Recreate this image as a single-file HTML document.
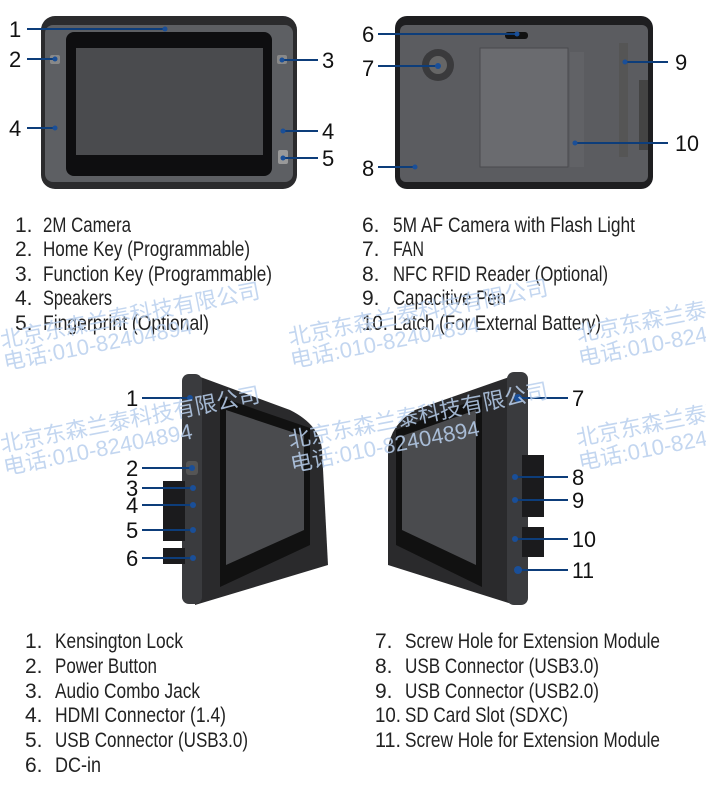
<!DOCTYPE html>
<html><head><meta charset="utf-8"><style>
html,body{margin:0;padding:0;background:#fff;}
svg{display:block}
.t{font-family:"Liberation Sans",sans-serif;font-size:21px;fill:#222}
.n{font-family:"Liberation Sans",sans-serif;font-size:22px;fill:#111}
.w{font-family:"Liberation Sans","Noto Sans CJK SC",sans-serif;font-size:22px;fill:#b9d0ee;opacity:.85}
.ln{stroke:#0d3d7a;stroke-width:2}
.dot{fill:#1a4f98}
</style></head><body>
<svg width="706" height="785" viewBox="0 0 706 785" xmlns="http://www.w3.org/2000/svg">
<!-- FRONT TABLET -->
<rect x="41" y="16" width="256" height="173" rx="14" fill="#2b2b2d"/>
<rect x="45" y="25" width="248" height="157" rx="8" fill="#5d5f63"/>
<rect x="66" y="32" width="206" height="144" rx="8" fill="#0e0e10"/>
<rect x="76" y="48" width="187" height="107" fill="#4a4b4e"/>
<rect x="50" y="55" width="10" height="9" rx="2" fill="#888"/>
<rect x="277" y="55" width="10" height="9" rx="2" fill="#888"/>
<rect x="278" y="150" width="10" height="14" rx="2" fill="#999"/>
<!-- BACK TABLET -->
<rect x="395" y="16" width="258" height="173" rx="12" fill="#1e1e20"/>
<rect x="400" y="25" width="248" height="157" rx="6" fill="#5b5c60"/>
<rect x="505" y="32" width="23" height="7" rx="3" fill="#111"/>
<circle cx="438" cy="65" r="16" fill="#3a3a3c"/>
<circle cx="438" cy="65" r="9" fill="#666"/>
<rect x="480" y="48" width="88" height="119" fill="#6a6b6f" stroke="#4a4a4e"/>
<rect x="570" y="52" width="14" height="115" fill="#616266"/>
<rect x="619" y="43" width="9" height="114" fill="#555"/>
<rect x="639" y="80" width="9" height="70" fill="#444"/>
<!-- top labels -->
<g class="ln">
<line x1="27" y1="29" x2="165" y2="29"/><line x1="27" y1="59" x2="55" y2="59"/>
<line x1="282" y1="60" x2="318" y2="60"/><line x1="27" y1="128" x2="55" y2="128"/>
<line x1="283" y1="131" x2="318" y2="131"/><line x1="283" y1="158" x2="318" y2="158"/>
<line x1="378" y1="34" x2="517" y2="34"/><line x1="378" y1="66" x2="438" y2="66"/>
<line x1="625" y1="62" x2="668" y2="62"/><line x1="575" y1="143" x2="668" y2="143"/>
<line x1="378" y1="167" x2="415" y2="167"/>
</g>
<g class="dot"><circle cx="165" cy="29" r="2.5"/><circle cx="55" cy="59" r="2.5"/><circle cx="282" cy="60" r="2.5"/><circle cx="55" cy="128" r="2.5"/><circle cx="283" cy="131" r="2.5"/><circle cx="283" cy="158" r="2.5"/><circle cx="517" cy="34" r="2.5"/><circle cx="438" cy="66" r="3"/><circle cx="625" cy="62" r="2.5"/><circle cx="575" cy="143" r="2.5"/><circle cx="415" cy="167" r="2.5"/></g>
<g class="n">
<text x="9" y="37">1</text><text x="9" y="67">2</text><text x="322" y="68">3</text>
<text x="9" y="136">4</text><text x="322" y="139">4</text><text x="322" y="166">5</text>
<text x="362" y="42">6</text><text x="362" y="76">7</text><text x="675" y="70">9</text>
<text x="675" y="151" textLength="24" lengthAdjust="spacingAndGlyphs">10</text><text x="362" y="176">8</text>
</g>
<!-- top lists -->
<g class="t">
<text x="15" y="232">1.</text><text x="43" y="232" textLength="88" lengthAdjust="spacingAndGlyphs">2M Camera</text>
<text x="15" y="256">2.</text><text x="43" y="256" textLength="207" lengthAdjust="spacingAndGlyphs">Home Key (Programmable)</text>
<text x="15" y="281">3.</text><text x="43" y="281" textLength="229" lengthAdjust="spacingAndGlyphs">Function Key (Programmable)</text>
<text x="15" y="305">4.</text><text x="43" y="305" textLength="69" lengthAdjust="spacingAndGlyphs">Speakers</text>
<text x="15" y="330">5.</text><text x="43" y="330" textLength="166" lengthAdjust="spacingAndGlyphs">Fingerprint (Optional)</text>
<text x="362" y="232">6.</text><text x="393" y="232" textLength="242" lengthAdjust="spacingAndGlyphs">5M AF Camera with Flash Light</text>
<text x="362" y="256">7.</text><text x="393" y="256" textLength="31" lengthAdjust="spacingAndGlyphs">FAN</text>
<text x="362" y="281">8.</text><text x="393" y="281" textLength="215" lengthAdjust="spacingAndGlyphs">NFC RFID Reader (Optional)</text>
<text x="362" y="305">9.</text><text x="393" y="305" textLength="113" lengthAdjust="spacingAndGlyphs">Capacitive Pen</text>
<text x="362" y="330" textLength="26" lengthAdjust="spacingAndGlyphs">10.</text><text x="393" y="330" textLength="208" lengthAdjust="spacingAndGlyphs">Latch (For External Battery)</text>
</g>
<!-- LEFT SIDE TABLET -->
<path d="M195,375 L290,410 Q320,425 322,450 L328,565 L195,605 Z" fill="#2a2a2c"/>
<polygon points="220,397 310,428 310,545 220,587" fill="#111"/>
<polygon points="226,410 304,436 304,530 226,565" fill="#4a4b4e"/>
<rect x="182" y="374" width="20" height="230" rx="7" fill="#3a3b3e"/>
<rect x="163" y="481" width="22" height="60" fill="#1b1b1d"/>
<rect x="163" y="548" width="22" height="16" fill="#1b1b1d"/>
<rect x="186" y="461" width="12" height="14" rx="3" fill="#555"/>
<!-- RIGHT SIDE TABLET -->
<path d="M515,375 L415,410 Q390,425 388,450 L388,565 L515,605 Z" fill="#2a2a2c"/>
<polygon points="396,430 482,397 482,587 396,545" fill="#111"/>
<polygon points="402,436 476,410 476,565 402,530" fill="#4a4b4e"/>
<rect x="507" y="372" width="21" height="233" rx="7" fill="#3a3b3e"/>
<rect x="522" y="455" width="22" height="62" fill="#1b1b1d"/>
<rect x="522" y="527" width="22" height="30" fill="#1b1b1d"/>
<g class="ln">
<line x1="142" y1="398" x2="190" y2="398"/><line x1="142" y1="468" x2="192" y2="468"/>
<line x1="142" y1="488" x2="193" y2="488"/><line x1="142" y1="505" x2="193" y2="505"/>
<line x1="142" y1="530" x2="193" y2="530"/><line x1="142" y1="558" x2="193" y2="558"/>
<line x1="520" y1="398" x2="568" y2="398"/><line x1="515" y1="477" x2="568" y2="477"/>
<line x1="515" y1="500" x2="568" y2="500"/><line x1="515" y1="539" x2="568" y2="539"/>
<line x1="518" y1="570" x2="568" y2="570"/>
</g>
<g class="dot"><circle cx="190" cy="398" r="3"/><circle cx="192" cy="468" r="3"/><circle cx="193" cy="488" r="3"/><circle cx="193" cy="505" r="3"/><circle cx="193" cy="530" r="3"/><circle cx="193" cy="558" r="3"/><circle cx="518" cy="398" r="4"/><circle cx="515" cy="477" r="3"/><circle cx="515" cy="500" r="3"/><circle cx="515" cy="539" r="3"/><circle cx="518" cy="570" r="4"/></g>
<g class="n">
<text x="126" y="406">1</text><text x="126" y="476">2</text><text x="126" y="496">3</text>
<text x="126" y="513">4</text><text x="126" y="538">5</text><text x="126" y="566">6</text>
<text x="572" y="406">7</text><text x="572" y="485">8</text><text x="572" y="508">9</text>
<text x="572" y="547" textLength="24" lengthAdjust="spacingAndGlyphs">10</text><text x="572" y="578" textLength="22" lengthAdjust="spacingAndGlyphs">11</text>
</g>
<!-- bottom lists -->
<g class="t">
<text x="25" y="648">1.</text><text x="55" y="648" textLength="128" lengthAdjust="spacingAndGlyphs">Kensington Lock</text>
<text x="25" y="673">2.</text><text x="55" y="673" textLength="102" lengthAdjust="spacingAndGlyphs">Power Button</text>
<text x="25" y="698">3.</text><text x="55" y="698" textLength="145" lengthAdjust="spacingAndGlyphs">Audio Combo Jack</text>
<text x="25" y="722">4.</text><text x="55" y="722" textLength="171" lengthAdjust="spacingAndGlyphs">HDMI Connector (1.4)</text>
<text x="25" y="747">5.</text><text x="55" y="747" textLength="193" lengthAdjust="spacingAndGlyphs">USB Connector (USB3.0)</text>
<text x="25" y="772">6.</text><text x="55" y="772" textLength="46" lengthAdjust="spacingAndGlyphs">DC-in</text>
<text x="375" y="648">7.</text><text x="405" y="648" textLength="255" lengthAdjust="spacingAndGlyphs">Screw Hole for Extension Module</text>
<text x="375" y="673">8.</text><text x="405" y="673" textLength="194" lengthAdjust="spacingAndGlyphs">USB Connector (USB3.0)</text>
<text x="375" y="698">9.</text><text x="405" y="698" textLength="194" lengthAdjust="spacingAndGlyphs">USB Connector (USB2.0)</text>
<text x="375" y="722" textLength="26" lengthAdjust="spacingAndGlyphs">10.</text><text x="405" y="722" textLength="163" lengthAdjust="spacingAndGlyphs">SD Card Slot (SDXC)</text>
<text x="375" y="747" textLength="26" lengthAdjust="spacingAndGlyphs">11.</text><text x="405" y="747" textLength="255" lengthAdjust="spacingAndGlyphs">Screw Hole for Extension Module</text>
</g>
<!-- watermarks -->
<g class="w">
<text transform="translate(2,348) rotate(-11)">北京东森兰泰科技有限公司</text>
<text transform="translate(5,370) rotate(-11)">电话:010-82404894</text>
<text transform="translate(290,345) rotate(-11)">北京东森兰泰科技有限公司</text>
<text transform="translate(292,368) rotate(-11)">电话:010-82404894</text>
<text transform="translate(578,342) rotate(-11)">北京东森兰泰科技有限公司</text>
<text transform="translate(580,366) rotate(-11)">电话:010-82404894</text>
<text transform="translate(2,452) rotate(-11)">北京东森兰泰科技有限公司</text>
<text transform="translate(5,475) rotate(-11)">电话:010-82404894</text>
<text transform="translate(290,448) rotate(-11)">北京东森兰泰科技有限公司</text>
<text transform="translate(292,472) rotate(-11)">电话:010-82404894</text>
<text transform="translate(578,446) rotate(-11)">北京东森兰泰科技有限公司</text>
<text transform="translate(580,470) rotate(-11)">电话:010-82404894</text>
</g>
</svg>
</body></html>
